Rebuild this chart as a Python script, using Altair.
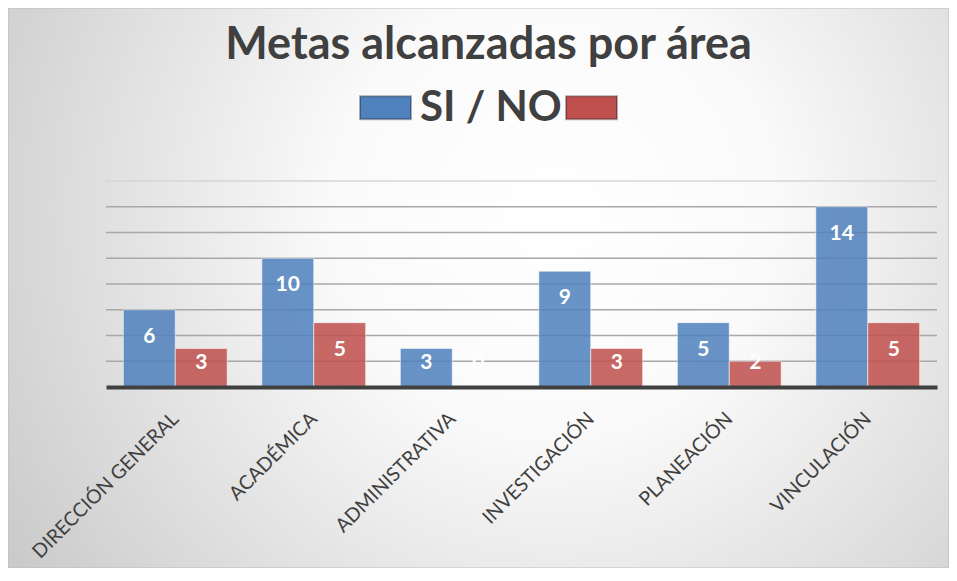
import altair as alt
import pandas as pd

# ---- data ----
areas = ["DIRECCIÓN GENERAL", "ACADÉMICA", "ADMINISTRATIVA", "INVESTIGACIÓN", "PLANEACIÓN", "VINCULACIÓN"]
si_values = [6, 10, 3, 9, 5, 14]
no_values = [3, 5, 0, 3, 2, 5]
series = ["SI", "NO"]
grid_values = [2, 4, 6, 8, 10, 12, 14, 16]

rows = []
for a, s, n in zip(areas, si_values, no_values):
    rows.append({"area": a, "serie": "SI", "valor": s})
    rows.append({"area": a, "serie": "NO", "valor": n})
df = pd.DataFrame(rows)
grid_df = pd.DataFrame({"v": grid_values})

W, H = 831, 206
PAD = {"left": 98, "top": 173, "right": 12, "bottom": 181}

yscale = alt.Scale(domain=[0, 16], nice=False, zero=True)
xscale = alt.Scale(paddingInner=0.25, paddingOuter=0.125)
colors = alt.Scale(domain=series, range=["#4F81BD", "#C0504D"])

bg_fill = {
    "gradient": "radial",
    "x1": 0.58, "y1": 0.42, "r1": 0,
    "x2": 0.58, "y2": 0.42, "r2": 0.78,
    "stops": [
        {"offset": 0, "color": "#FFFFFF"},
        {"offset": 0.3, "color": "#FAFAFA"},
        {"offset": 1, "color": "#C0C0C0"},
    ],
}

background = alt.Chart(pd.DataFrame({"a": [0]})).mark_rect(
    fill=bg_fill, stroke="#BDBDBD", strokeWidth=1
).encode(
    x=alt.value(-PAD["left"]), x2=alt.value(W + PAD["right"]),
    y=alt.value(-PAD["top"]), y2=alt.value(H + PAD["bottom"]),
)

grid = alt.Chart(grid_df).mark_rule(strokeWidth=1.3).encode(
    y=alt.Y("v:Q", scale=yscale, axis=None),
    color=alt.condition("datum.v == 16", alt.value("#D6D6D6"), alt.value("#A8A8A8")),
)

bars = alt.Chart(df).mark_bar(
    opacity=0.85, stroke="#FFFFFF", strokeWidth=1, strokeOpacity=0.6
).encode(
    x=alt.X("area:N", sort=areas, scale=xscale, title=None,
            axis=alt.Axis(labelAngle=-45, labelAlign="right", labelBaseline="top",
                          labelFont="Lato", labelFontSize=19.5, labelColor="#404040",
                          labelPadding=22, labelOffset=-6, labelLimit=0,
                          ticks=False, domainColor="#404040", domainWidth=4,
                          grid=False, zindex=1)),
    xOffset=alt.XOffset("serie:N", sort=series),
    y=alt.Y("valor:Q", scale=yscale, axis=None),
    color=alt.Color("serie:N", scale=colors, sort=series,
                    legend=alt.Legend(orient="none", legendX=253, legendY=-100,
                                      direction="horizontal", title=None,
                                      symbolType="M-1,-0.45H1V0.45H-1Z", symbolSize=2600,
                                      symbolOpacity=1, symbolStrokeWidth=2,
                                      symbolStrokeColor="rgba(0,0,0,0.3)",
                                      labelFont="Lato", labelFontSize=42, labelFontWeight="bold",
                                      labelColor="#404040", labelLimit=0, labelOffset=8,
                                      columnPadding=0,
                                      labelExpr="datum.label == 'SI' ? 'SI / NO' : ''",
                                      zindex=1)),
)

labels = alt.Chart(df).transform_calculate(
    ly="max(datum.valor - 2.1, 1.85)"
).mark_text(
    font="Lato", fontSize=21, fontWeight="bold", color="white", baseline="middle", align="center"
).encode(
    x=alt.X("area:N", sort=areas, scale=xscale),
    xOffset=alt.XOffset("serie:N", sort=series),
    y=alt.Y("ly:Q", scale=yscale, axis=None),
    text=alt.Text("valor:Q"),
)

chart = alt.layer(background, grid, bars, labels).properties(
    width=W, height=H,
    padding=PAD,
    autosize=alt.AutoSizeParams(type="none"),
    title=alt.TitleParams("Metas alcanzadas por área", font="Lato", fontSize=45,
                          fontWeight="bold", color="#404040", anchor="middle",
                          frame="bounds", baseline="alphabetic", offset=-96, dx=10, zindex=1),
).configure_view(stroke=None)

chart.save("out.html", embed_options={"renderer": "svg", "actions": False})
